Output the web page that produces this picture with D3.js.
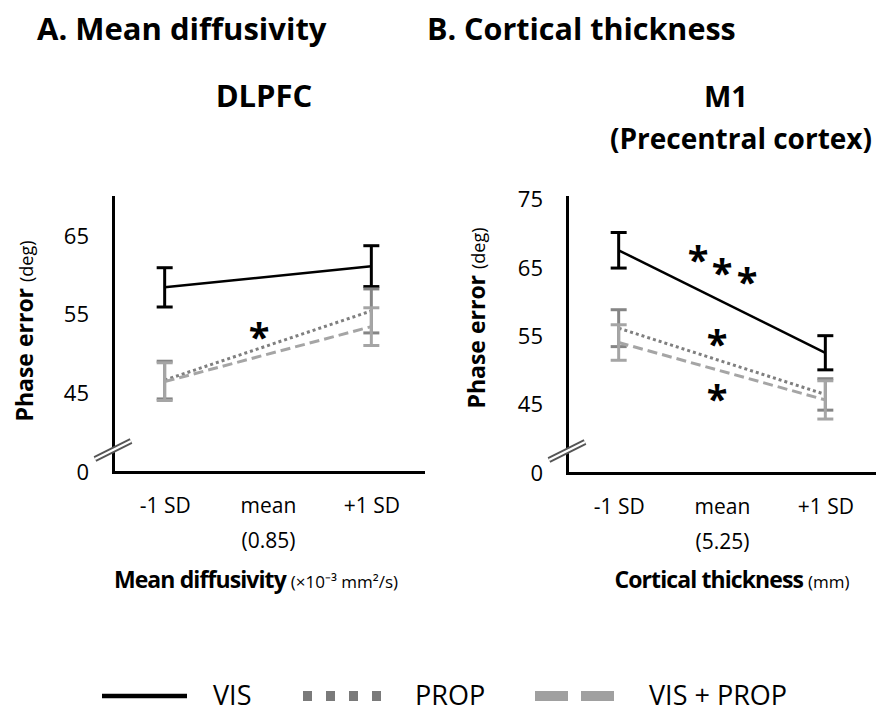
<!DOCTYPE html>
<html>
<head>
<meta charset="utf-8">
<script src="https://cdn.jsdelivr.net/npm/d3@7"></script>
<style>
  body { margin: 0; background: #fff; }
  text { font-family: "Open Sans", sans-serif; fill: #000; }
</style>
</head>
<body>
<div id="chart-area"></div>
<script>
// levels of the moderator (x axis)
var levels = ["-1 SD", "mean", "+1 SD"];
var endLevels = ["-1 SD", "+1 SD"];
var seriesNames = ["VIS", "PROP", "VIS + PROP"];

// A. Mean diffusivity, DLPFC  (phase error, deg)
var mdVis = [58.5, 61.2];
var mdVisErr = [2.5, 2.6];
var mdProp = [46.7, 55.5];
var mdPropErr = [2.4, 2.8];
var mdBoth = [46.5, 53.5];
var mdBothErr = [2.4, 2.4];

// B. Cortical thickness, M1  (phase error, deg)
var ctVis = [67.6, 52.6];
var ctVisErr = [2.6, 2.5];
var ctProp = [56.2, 46.5];
var ctPropErr = [2.7, 2.3];
var ctBoth = [54.1, 45.7];
var ctBothErr = [2.6, 2.8];

var mdTicks = [35, 45, 55, 65];
var ctTicks = [35, 45, 55, 65, 75];

var W = 876, H = 712;

var svg = d3.select("#chart-area")
  .append("svg")
  .attr("width", W)
  .attr("height", H);

var styles = {
  "VIS": { color: "#000", dash: null, width: 2.5, errColor: "#000" },
  "PROP": { color: "#7f7f7f", dash: "3,3", width: 3, errColor: "#858585" },
  "VIS + PROP": { color: "#a5a5a5", dash: "10,5", width: 3, errColor: "#a5a5a5" }
};

function drawPanel(p) {
  var g = svg.append("g");

  var x = d3.scalePoint()
    .domain(levels)
    .range([p.left, p.right])
    .padding(0.5);

  var y = d3.scaleLinear()
    .domain(p.yDomain)
    .range([p.bottom, p.top]);

  // series lines + error bars
  p.series.forEach(function(s) {
    var st = styles[s.name];
    var pts = endLevels.map(function(l, i) {
      return { lvl: l, v: s.values[i], e: s.errs[i] };
    });

    g.append("path")
      .datum(pts)
      .attr("fill", "none")
      .attr("stroke", st.color)
      .attr("stroke-width", st.width)
      .attr("stroke-dasharray", st.dash)
      .attr("d", d3.line()
        .x(function(d) { return x(d.lvl); })
        .y(function(d) { return y(d.v); }));

    var eb = g.selectAll(null)
      .data(pts)
      .enter()
      .append("g")
      .attr("stroke", st.errColor)
      .attr("stroke-width", 3);

    eb.append("line")
      .attr("x1", function(d) { return x(d.lvl); })
      .attr("x2", function(d) { return x(d.lvl); })
      .attr("y1", function(d) { return y(d.v - d.e); })
      .attr("y2", function(d) { return y(d.v + d.e); });

    [-1, 1].forEach(function(sign) {
      eb.append("line")
        .attr("x1", function(d) { return x(d.lvl) - 8; })
        .attr("x2", function(d) { return x(d.lvl) + 8; })
        .attr("y1", function(d) { return y(d.v + sign * d.e); })
        .attr("y2", function(d) { return y(d.v + sign * d.e); });
    });
  });

  // y axis
  var yAxis = d3.axisLeft(y)
    .tickValues(p.ticks)
    .tickSize(0)
    .tickPadding(24)
    .tickFormat(function(d) { return d === p.yDomain[0] ? "0" : d; });

  var ya = g.append("g")
    .attr("transform", "translate(" + p.left + ",0)")
    .call(yAxis);
  ya.select(".domain").attr("stroke", "#000").attr("stroke-width", 3)
    .attr("stroke-linecap", "square");
  ya.selectAll("text")
    .style("font-family", "'Open Sans', sans-serif")
    .attr("font-size", 22)
    .attr("fill", "#000");

  // x axis
  var xAxis = d3.axisBottom(x)
    .tickSize(0)
    .tickPadding(26);

  var xa = g.append("g")
    .attr("transform", "translate(0," + p.bottom + ")")
    .call(xAxis);
  xa.select(".domain").attr("stroke", "#000").attr("stroke-width", 3)
    .attr("stroke-linecap", "square");
  xa.selectAll("text")
    .style("font-family", "'Open Sans', sans-serif")
    .attr("font-size", 21)
    .attr("fill", "#000");
  xa.selectAll(".tick")
    .filter(function(d) { return d === "mean"; })
    .select("text")
    .append("tspan")
    .attr("x", 0)
    .attr("dy", "1.65em")
    .text("(" + p.meanValue + ")");

  // axis break
  var by = p.bottom - 22;
  [["#555", 6], ["#fff", 2.2]].forEach(function(b) {
    g.append("line")
      .attr("x1", p.left - 18).attr("y1", by + 9)
      .attr("x2", p.left + 18).attr("y2", by - 9)
      .attr("stroke", b[0])
      .attr("stroke-width", b[1]);
  });

  // y axis title
  var yt = g.append("text")
    .attr("transform", "translate(" + p.yTitleX + "," + p.yTitleY + ") rotate(-90)")
    .attr("text-anchor", "middle");
  yt.append("tspan").attr("font-weight", "bold").attr("font-size", 23).text("Phase error ");
  yt.append("tspan").attr("font-size", 18).text("(deg)");

  // x axis title
  var xt = g.append("text")
    .attr("x", p.xTitleX)
    .attr("y", 588)
    .attr("text-anchor", "middle");
  xt.append("tspan").attr("font-weight", "bold").attr("font-size", 23)
    .attr("letter-spacing", -0.9).text(p.xTitle);
  xt.append("tspan").attr("font-size", 17).attr("dx", 5).text(p.xUnit);

  // significance stars
  g.selectAll(null)
    .data(p.stars)
    .enter()
    .append("text")
    .attr("x", function(d) { return x("mean") + d.dx; })
    .attr("y", function(d) { return y(d.v); })
    .attr("text-anchor", "middle")
    .attr("font-size", 38)
    .attr("font-weight", "bold")
    .attr("dy", "0.56em")
    .text("*");

  return g;
}

drawPanel({
  left: 113, right: 423, top: 197, bottom: 472,
  yDomain: [35, 70], ticks: mdTicks,
  meanValue: "0.85",
  series: [
    { name: "VIS", values: mdVis, errs: mdVisErr },
    { name: "PROP", values: mdProp, errs: mdPropErr },
    { name: "VIS + PROP", values: mdBoth, errs: mdBothErr }
  ],
  yTitleX: 33, yTitleY: 331,
  xTitleX: 256, xTitle: "Mean diffusivity", xUnit: "(×10⁻³ mm²/s)",
  stars: [{ dx: -9, v: 53.1 }]
});

drawPanel({
  left: 567, right: 877, top: 197, bottom: 473,
  yDomain: [35, 75.4], ticks: ctTicks,
  meanValue: "5.25",
  series: [
    { name: "VIS", values: ctVis, errs: ctVisErr },
    { name: "PROP", values: ctProp, errs: ctPropErr },
    { name: "VIS + PROP", values: ctBoth, errs: ctBothErr }
  ],
  yTitleX: 485, yTitleY: 318,
  xTitleX: 732, xTitle: "Cortical thickness", xUnit: "(mm)",
  stars: [{ dx: -24, v: 67.3 }, { dx: 0, v: 65.4 }, { dx: 25, v: 64.0 }, { dx: -5, v: 54.9 }, { dx: -5, v: 46.9 }]
});

// panel headings
var headings = [
  { t: "A. Mean diffusivity", x: 37, y: 40, anchor: "start", fs: 31 },
  { t: "B. Cortical thickness", x: 427, y: 40, anchor: "start", fs: 30.5 },
  { t: "DLPFC", x: 264, y: 107, anchor: "middle", fs: 31 },
  { t: "M1", x: 726, y: 107, anchor: "middle", fs: 29 },
  { t: "(Precentral cortex)", x: 741, y: 149, anchor: "middle", fs: 28 }
];
svg.selectAll(".heading")
  .data(headings)
  .enter()
  .append("text")
  .attr("class", "heading")
  .attr("x", function(d) { return d.x; })
  .attr("y", function(d) { return d.y; })
  .attr("text-anchor", function(d) { return d.anchor; })
  .attr("font-weight", "bold")
  .attr("font-size", function(d) { return d.fs; })
  .text(function(d) { return d.t; });

// legend
var legend = svg.append("g");
var legendItems = [
  { name: "VIS", x1: 102, x2: 187, tx: 213, sw: 4.5, dash: null, color: "#000" },
  { name: "PROP", x1: 303, x2: 381, tx: 415, sw: 10, dash: "9,14", color: "#7a7a7a" },
  { name: "VIS + PROP", x1: 535, x2: 615, tx: 649, sw: 10, dash: "33,13", color: "#a0a0a0" }
];
legendItems.forEach(function(d) {
  legend.append("line")
    .attr("x1", d.x1).attr("x2", d.x2)
    .attr("y1", 696).attr("y2", 696)
    .attr("stroke", d.color)
    .attr("stroke-width", d.sw)
    .attr("stroke-dasharray", d.dash);
  legend.append("text")
    .attr("x", d.tx)
    .attr("y", 705)
    .attr("font-size", 27)
    .text(d.name);
});
</script>
</body>
</html>
